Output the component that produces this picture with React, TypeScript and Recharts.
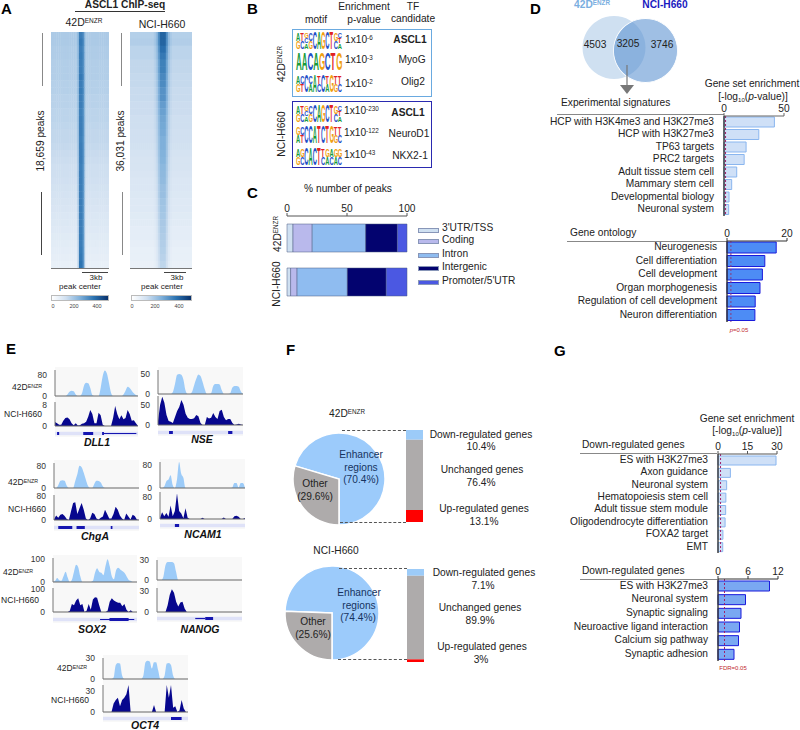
import React from "react"
import {
  Area,
  AreaChart,
  Bar,
  BarChart,
  Cell,
  ComposedChart,
  Pie,
  PieChart,
  ReferenceArea,
  ReferenceLine,
  Scatter,
  ScatterChart,
  XAxis,
  YAxis,
} from "recharts"

const FONT = '"Liberation Sans", Arial, sans-serif'
const LIGHT_TRACK = "#9ccbf8"
const DARK_TRACK = "#07078e"

// panel A: intensity read row by row, top to bottom
const hm42Background = [.36, .36, .35, .35, .34, .34, .34, .33, .33, .32, .32, .31, .31, .30, .29, .29, .28, .27, .26, .25, .25, .24, .23, .22, .21, .20, .19, .18, .17, .16, .15, .14, .13, .12]
const hm42Center = [.70, .72, .70, .71, .70, .70, .72, .70, .71, .70, .70, .69, .70, .70, .70, .69, .70, .70, .70, .69, .70, .70, .70, .70, .70, .70, .70, .70, .70, .71, .70, .71, .72, .74]
const hm42Profile = [0, 0, 0, 0, 0, 0, 0, 0, 0, 0, 0, 0, 0, 0, .2, 1, 1, .8, .1, 0, 0, 0, 0, 0, 0, 0, 0, 0, 0, 0, 0]
const hmNciBackground = [.33, .34, .31, .31, .29, .29, .28, .28, .27, .27, .26, .26, .25, .25, .24, .24, .23, .22, .21, .21, .20, .19, .19, .18, .17, .17, .16, .15, .14, .14, .13, .12, .12, .11]
const hmNciCenter = [.80, .80, .76, .72, .69, .69, .66, .65, .62, .62, .58, .56, .54, .53, .52, .50, .50, .49, .48, .46, .45, .44, .42, .42, .40, .39, .38, .37, .36, .35, .34, .33, .32, .30]
const hmNciProfile = [0, 0, 0, 0, 0, 0, 0, 0, 0, 0, 0, 0, .08, .25, .65, 1, 1, 1, .65, .25, .08, 0, 0, 0, 0, 0, 0, 0, 0, 0, 0]

// panel C
const peakRows = ["42D", "NCI-H660"]
const peakUtr = [5, 3]
const peakCoding = [16, 5.4]
const peakIntron = [44.6, 41.9]
const peakIntergenic = [26.4, 32.4]
const peakPromoter = [8, 17.3]
const peakNames = ["3'UTR/TSS", "Coding", "Intron", "Intergenic", "Promoter/5'UTR"]
const peakColors = ["#cfe0f1", "#b9b9ec", "#8fbcf0", "#03036f", "#4b58e2"]

// panel D
const expTerms = ["HCP with H3K4me3 and H3K27me3", "HCP with H3K27me3", "TP63 targets", "PRC2 targets", "Adult tissue stem cell", "Mammary stem cell", "Developmental biology", "Neuronal system"]
const expValues = [42, 29, 18.4, 16.8, 10.6, 6.4, 4.2, 3.9]
const goTerms = ["Neurogenesis", "Cell differentiation", "Cell development", "Organ morphogenesis", "Regulation of cell development", "Neuron differentiation"]
const goValues = [16.4, 12.6, 11.8, 11, 9.4, 9.3]

// panel E tracks
const dll1A = [0, 0, 0, 0, 0, 0, 6, 16, 20, 18, 6, 0, 0, 10, 40, 50, 48, 30, 4, 0, 0, 0, 30, 75, 96, 85, 50, 12, 0, 0, 0, 0, 0, 6, 20, 35, 30, 20, 10, 4, 0]
const dll1B = [1.5, 1, .5, .5, 2, 3, 3.2, 2.5, 1, .3, 1, .2, .3, .8, 1, 1.6, 3.5, 6, 4.5, 1, 1, 5, 4, .5, 0, 0, 0, 0, 3, 7.5, 4.5, 2.5, 4, 2.5, 3, 6, 4.5, 2, 2.2, 1, 0]
const nseA = [0, 0, 0, 0, 0, 0, 0, 5, 25, 48, 50, 48, 35, 8, 0, 0, 5, 22, 38, 49, 45, 30, 12, 0, 0, 2, 20, 25, 25, 24, 10, 0, 0, 0, 2, 16, 20, 20, 18, 6, 0]
const nseB = [10, 50, 70, 55, 25, 10, 8, 5, 20, 35, 45, 62, 50, 28, 18, 15, 15, 17, 25, 22, 5, 0, 0, 20, 16, 18, 30, 20, 15, 35, 38, 20, 12, 15, 15, 5, 0, 1, 3, 1, 0]
const chgaA = [0, 0, 10, 26, 28, 26, 8, 0, 0, 0, 25, 50, 80, 75, 55, 30, 8, 0, 0, 15, 26, 25, 20, 6, 0, 0, 0, 0, 0, 0, 0, 0, 0, 0, 0, 0, 0, 0, 0, 0, 0]
const chgaB = [2, 15, 8, 18, 20, 14, 3, 0, 30, 58, 60, 20, 40, 58, 35, 5, 0, 5, 25, 20, 5, 2, 8, 12, 35, 20, 5, 5, 20, 45, 35, 15, 5, 0, 22, 12, 2, 18, 14, 2, 0]
const ncam1A = [0, 0, 5, 24, 30, 45, 10, 0, 30, 92, 50, 36, 0, 0, 0, 0, 0, 0, 0, 0, 0, 0, 0, 0, 0, 0, 0, 0, 0, 0, 0, 0, 0, 0, 2, 18, 18, 2, 18, 18, 0]
const ncam1B = [5, 25, 10, 22, 8, 50, 10, 30, 95, 30, 20, 3, 40, 5, 0, 0, 0, 0, 0, 0, 5, 0, 0, 0, 0, 0, 0, 0, 0, 0, 6, 0, 0, 0, 0, 10, 12, 8, 0, 0, 4]
const sox2A = [0, 5, 18, 8, 5, 25, 45, 20, 0, 10, 45, 75, 65, 25, 0, 0, 0, 0, 0, 5, 40, 60, 45, 40, 30, 70, 100, 70, 25, 12, 50, 62, 55, 48, 40, 25, 10, 5, 0, 0, 0]
const sox2B = [0, 0, 0, 0, 0, 0, 0, 0, 5, 35, 30, 50, 60, 30, 35, 0, 5, 35, 10, 55, 65, 62, 30, 0, 0, 0, 5, 45, 60, 50, 45, 40, 40, 25, 35, 10, 0, 8, 0, 0, 0]
const nanogA = [0, 0, 0, 5, 22, 27, 27, 27, 25, 12, 0, 0, 0, 0, 0, 0, 0, 0, 0, 0, 0, 0, 0, 0, 0, 0, 0, 0, 0, 0, 0, 0, 0, 0, 0, 0, 0, 0, 0, 0, 0]
const nanogB = [0, 0, 0, 0, 0, 10, 25, 33, 28, 15, 8, 14, 15, 5, 0, 0, 0, 0, 0, 0, 0, 0, 0, 0, 0, 0, 0, 0, 0, 0, 0, 0, 0, 0, 0, 0, 0, 0, 0, 0, 0]
const oct4A = [0, 0, 0, 0, 0, 2, 20, 23, 22, 5, 0, 0, 0, 0, 0, 0, 0, 0, 0, 5, 24, 26, 25, 15, 24, 24, 12, 0, 0, 5, 22, 23, 20, 5, 0, 0, 0, 0, 0, 0, 0]
const oct4B = [0, 0, 0, 0, 0, 12, 17, 20, 8, 17, 20, 25, 38, 0, 0, 0, 0, 0, 0, 0, 0, 0, 0, 0, 10, 0, 0, 0, 0, 0, 38, 20, 38, 6, 8, 0, 2, 17, 5, 0, 0]

// panel F
const pie42 = [70.4, 29.6]
const pieNci = [74.4, 25.6]
const pieNames = ["Enhancer regions", "Other"]
const stack42 = [13.1, 76.4, 10.4]
const stackNci = [3, 89.9, 7.1]

// panel G
const downTerms = ["ES with H3K27me3", "Axon guidance", "Neuronal system", "Hematopoiesis stem cell", "Adult tissue stem module", "Oligodendrocyte differentiation", "FOXA2 target", "EMT"]
const downValues = [29.5, 6.3, 4.4, 4, 3.9, 3.6, 2.5, 2.4]
const down2Terms = ["ES with H3K27me3", "Neuronal system", "Synaptic signaling", "Neuroactive ligand interaction", "Calcium sig pathway", "Synaptic adhesion"]
const down2Values = [10.3, 5.5, 4.6, 4.3, 4.1, 3.2]

// motif logos, one string per column, letters stacked top to bottom
const motifAscl1 = ["AG", "TC", "GCA", "CG", "C", "A", "G", "C", "T", "GC", "CTA"]
const motifMyog = ["A", "A", "C", "A", "G", "C", "T", "G"]
const motifOlig2 = ["AG", "CT", "C", "CA", "A", "TC", "C", "TA", "G", "TG", "TC"]
const motifNeurod1 = ["GA", "CT", "C", "C", "A", "T", "C", "T", "G", "TG", "TC"]
const motifNkx2 = ["AG", "GC", "C", "A", "C", "T", "TC", "GA", "AC", "GA", "GC"]

const BASE = 10.2

type TProps = {
  x: number
  y: number
  children: React.ReactNode
  size?: number
  anchor?: "l" | "c" | "r"
  weight?: number
  color?: string
  rotate?: boolean
  style?: React.CSSProperties
}

function T({ x, y, children, size = BASE, anchor = "c", weight, color = "#222", rotate, style }: TProps) {
  const shift = anchor === "c" ? "-50%" : anchor === "r" ? "-100%" : "0"
  return (
    <div
      style={{
        position: "absolute",
        left: x,
        top: y,
        fontSize: size,
        fontWeight: weight,
        color,
        lineHeight: 1,
        whiteSpace: "nowrap",
        transform: `translate(${shift},-50%)${rotate ? " rotate(-90deg)" : ""}`,
        ...style,
      }}
    >
      {children}
    </div>
  )
}

const Sup = ({ children }: { children: React.ReactNode }) => (
  <span style={{ fontSize: "0.62em", position: "relative", top: "-0.4em" }}>{children}</span>
)

const Enzr = () => (
  <>
    42D<Sup>ENZR</Sup>
  </>
)

function Rule({ x1, x2, y, color = "#888", h = 1, dashed }: { x1: number; x2: number; y: number; color?: string; h?: number; dashed?: boolean }) {
  return (
    <div
      style={{
        position: "absolute",
        left: x1,
        top: y,
        width: x2 - x1,
        borderTop: `${h}px ${dashed ? "dashed" : "solid"} ${color}`,
      }}
    />
  )
}

function VRule({ x, y1, y2, color = "#888" }: { x: number; y1: number; y2: number; color?: string }) {
  return <div style={{ position: "absolute", left: x, top: y1, height: y2 - y1, borderLeft: `1px solid ${color}` }} />
}

const ramp = [
  [255, 255, 255],
  [207, 223, 240],
  [127, 176, 218],
  [43, 114, 176],
  [8, 48, 107],
]

function heatColor(v: number) {
  const p = Math.min(v, 0.999) * 4
  const i = Math.floor(p)
  const f = p - i
  const c = ramp[i].map((a, k) => Math.round(a + (ramp[i + 1][k] - a) * f))
  return `rgb(${c[0]},${c[1]},${c[2]})`
}

function Heatmap({ left, top, w, h, background, center, profile }: { left: number; top: number; w: number; h: number; background: number[]; center: number[]; profile: number[] }) {
  const cells = background.flatMap((b, r) =>
    profile.map((p, c) => ({ c, r, v: b + (center[r] - b) * p }))
  )
  const cw = w / profile.length + 0.4
  const ch = h / background.length + 0.4
  return (
    <div style={{ position: "absolute", left, top }}>
      <ScatterChart width={w} height={h} margin={{ top: 0, right: 0, bottom: 0, left: 0 }}>
        <XAxis type="number" dataKey="c" domain={[-0.5, profile.length - 0.5]} hide />
        <YAxis type="number" dataKey="r" domain={[-0.5, background.length - 0.5]} reversed hide />
        <Scatter
          data={cells}
          isAnimationActive={false}
          shape={(props: any) => (
            <rect x={props.cx - cw / 2} y={props.cy - ch / 2} width={cw} height={ch} fill={heatColor(props.payload.v)} />
          )}
        />
      </ScatterChart>
    </div>
  )
}

function ColorBar({ left, width, labels }: { left: number; width: number; labels: number[] }) {
  return (
    <>
      <div
        style={{
          position: "absolute",
          left,
          top: 295,
          width,
          height: 6,
          border: "1px solid #bbb",
          boxSizing: "border-box",
          background: "linear-gradient(to right,#fff,#cfdff0 25%,#7fb0da 50%,#2b72b0 75%,#08306b)",
        }}
      />
      {["0", "200", "400"].map((t, i) => (
        <T key={t} x={labels[i]} y={307} size={5.5} color="#444">
          {t}
        </T>
      ))}
    </>
  )
}

type Exon = [number, number, boolean]

function GeneStrip({ left, width, y, exons }: { left: number; width: number; y: number; exons: Exon[] }) {
  return (
    <div style={{ position: "absolute", left, top: y - 2.5 }}>
      <ComposedChart width={width} height={5} data={[{ i: 0, v: 0 }, { i: 40, v: 1 }]} margin={{ top: 0, right: 0, bottom: 0, left: 0 }}>
        <XAxis type="number" dataKey="i" domain={[0, 40]} hide />
        <YAxis type="number" domain={[0, 1]} hide />
        <Area dataKey="v" stroke="none" fill="none" isAnimationActive={false} />
        <ReferenceArea x1={0} x2={40} y1={0.15} y2={0.85} fill="#dfe2f8" fillOpacity={1} stroke="none" ifOverflow="visible" />
        {exons.map(([a, b, thick]) => (
          <ReferenceArea
            key={a}
            x1={a}
            x2={b}
            y1={thick ? 0.2 : 0.38}
            y2={thick ? 0.8 : 0.62}
            fill="#1515b0"
            fillOpacity={1}
            stroke="none"
            ifOverflow="visible"
          />
        ))}
      </ComposedChart>
    </div>
  )
}

type TrackProps = {
  left: number
  right: number
  top: number
  base: number
  values: number[]
  max: number
  ticks: number[]
  color: string
  curve: "monotone" | "linear"
}

function Track({ left, right, top, base, values, max, ticks, color, curve }: TrackProps) {
  const gutter = 22
  const pad = 6
  const rows = values.map((v, i) => ({ i, v }))
  return (
    <div style={{ position: "absolute", left: left - gutter, top: top - pad }}>
      <AreaChart
        width={right - left + gutter}
        height={base - top + pad * 2}
        data={rows}
        margin={{ top: pad, right: 0, bottom: pad - 1, left: 0 }}
      >
        <XAxis type="number" dataKey="i" domain={[0, 40]} tick={false} tickLine={false} height={1} axisLine={{ stroke: "#666" }} />
        <YAxis
          type="number"
          width={gutter}
          domain={[0, max]}
          ticks={ticks}
          tickLine={false}
          tickMargin={2}
          interval={0}
          axisLine={{ stroke: "#777" }}
          tick={{ fontSize: 8.5, fill: "#333", fontFamily: FONT }}
        />
        <Area type={curve} dataKey="v" stroke="none" fill={color} fillOpacity={1} isAnimationActive={false} dot={false} />
      </AreaChart>
    </div>
  )
}

type LocusProps = {
  left: number
  right: number
  topA: number
  baseA: number
  topB: number
  baseB: number
  a: number[]
  b: number[]
  maxA: number
  maxB: number
  ticksA: number[]
  ticksB: number[]
  stripY: number
  exons: Exon[]
  name: string
  nameX: number
  nameY: number
}

function Locus(p: LocusProps) {
  return (
    <>
      <div style={{ position: "absolute", left: p.left, top: p.topA - 3, width: p.right - p.left, height: p.stripY - p.topA + 7, background: "#f8f8f8" }} />
      <Track left={p.left} right={p.right} top={p.topA} base={p.baseA} values={p.a} max={p.maxA} ticks={p.ticksA} color={LIGHT_TRACK} curve="monotone" />
      <Track left={p.left} right={p.right} top={p.topB} base={p.baseB} values={p.b} max={p.maxB} ticks={p.ticksB} color={DARK_TRACK} curve="linear" />
      <GeneStrip left={p.left} width={p.right - p.left} y={p.stripY} exons={p.exons} />
      <T x={p.nameX} y={p.nameY} size={10.5} weight={700} color="#111" style={{ fontStyle: "italic" }}>
        {p.name}
      </T>
    </>
  )
}

type EnrichProps = {
  zero: number
  end: number
  axisY: number
  bottom: number
  labelWidth: number
  terms: string[]
  values: number[]
  max: number
  ticks: number[]
  fill: string
  stroke: string
  barSize: number
  cutoff: number
  cutoffColor: string
  axisColor: string
}

function EnrichBars(p: EnrichProps) {
  const axisH = 16
  const rows = p.terms.map((term, i) => ({ term, value: p.values[i] }))
  return (
    <div style={{ position: "absolute", left: p.zero - p.labelWidth, top: p.axisY - axisH }}>
      <BarChart
        layout="vertical"
        width={p.labelWidth + (p.end - p.zero) + 10}
        height={p.bottom - p.axisY + axisH}
        data={rows}
        margin={{ top: 0, right: 10, bottom: 0, left: 0 }}
      >
        <XAxis
          type="number"
          orientation="top"
          domain={[0, p.max]}
          ticks={p.ticks}
          height={axisH}
          interval={0}
          tickSize={3}
          tickMargin={1}
          axisLine={{ stroke: p.axisColor, strokeWidth: 1.2 }}
          tickLine={{ stroke: p.axisColor }}
          tick={{ fontSize: BASE, fill: "#222", fontFamily: FONT }}
        />
        <YAxis
          type="category"
          dataKey="term"
          width={p.labelWidth}
          interval={0}
          tickLine={false}
          axisLine={{ stroke: "#333", strokeWidth: 1.4 }}
          tick={(t: any) => (
            <text x={t.x - 2} y={t.y} textAnchor="end" dominantBaseline="middle" fontSize={BASE} fill="#222" fontFamily={FONT}>
              {t.payload.value}
            </text>
          )}
        />
        <Bar dataKey="value" fill={p.fill} stroke={p.stroke} strokeWidth={1} barSize={p.barSize} isAnimationActive={false} />
        <ReferenceLine x={p.cutoff} stroke={p.cutoffColor} strokeDasharray="2 2" strokeWidth={1} />
      </BarChart>
    </div>
  )
}

function PeakBars() {
  const rows = peakRows.map((name, i) => ({
    name,
    utr: peakUtr[i],
    coding: peakCoding[i],
    intron: peakIntron[i],
    intergenic: peakIntergenic[i],
    promoter: peakPromoter[i],
  }))
  const keys = ["utr", "coding", "intron", "intergenic", "promoter"]
  return (
    <div style={{ position: "absolute", left: 277, top: 200 }}>
      <BarChart layout="vertical" width={140} height={104} data={rows} margin={{ top: 0, right: 10, bottom: 0, left: 10 }}>
        <XAxis
          type="number"
          orientation="top"
          domain={[0, 100]}
          ticks={[0, 50, 100]}
          height={16}
          interval={0}
          tickSize={3}
          tickMargin={1}
          axisLine={{ stroke: "#555" }}
          tickLine={{ stroke: "#555" }}
          tick={{ fontSize: BASE, fill: "#222", fontFamily: FONT }}
        />
        <YAxis type="category" dataKey="name" width={0} tick={false} tickLine={false} axisLine={{ stroke: "#555" }} />
        {keys.map((k, i) => (
          <Bar key={k} dataKey={k} stackId="a" fill={peakColors[i]} stroke="#4a5a80" strokeWidth={0.5} barSize={28} isAnimationActive={false} />
        ))}
      </BarChart>
    </div>
  )
}

function GeneStack({ left, top, h, values }: { left: number; top: number; h: number; values: number[] }) {
  const rows = [{ up: values[0], same: values[1], down: values[2] }]
  return (
    <div style={{ position: "absolute", left, top }}>
      <BarChart width={17} height={h} data={rows} margin={{ top: 0, right: 0, bottom: 0, left: 0 }} barCategoryGap={0}>
        <XAxis hide />
        <YAxis hide domain={[0, "dataMax"]} />
        <Bar dataKey="up" stackId="a" fill="#ff0000" isAnimationActive={false} />
        <Bar dataKey="same" stackId="a" fill="#aeabab" isAnimationActive={false} />
        <Bar dataKey="down" stackId="a" fill="#9ccbf8" isAnimationActive={false} />
      </BarChart>
    </div>
  )
}

function EnhancerPie({ cx, cy, r, values }: { cx: number; cy: number; r: number; values: number[] }) {
  const rows = pieNames.map((name, i) => ({ name, value: values[i] }))
  const size = r * 2 + 6
  return (
    <div style={{ position: "absolute", left: cx - size / 2, top: cy - size / 2 }}>
      <PieChart width={size} height={size} margin={{ top: 0, right: 0, bottom: 0, left: 0 }}>
        <Pie data={rows} dataKey="value" cx={size / 2} cy={size / 2} outerRadius={r} startAngle={-90} endAngle={270} stroke="#fff" strokeWidth={1.5} isAnimationActive={false}>
          <Cell fill="#9ccbfb" />
          <Cell fill="#aeabab" />
        </Pie>
      </PieChart>
    </div>
  )
}

function Venn() {
  return (
    <div style={{ position: "absolute", left: 570, top: 5 }}>
      <PieChart width={120} height={90} margin={{ top: 0, right: 0, bottom: 0, left: 0 }}>
        <Pie data={[{ value: 4503 + 3205 }]} dataKey="value" cx={44} cy={42.5} outerRadius={31.5} stroke="none" fill="#cfe0f1" isAnimationActive={false} />
        <Pie data={[{ value: 3746 + 3205 }]} dataKey="value" cx={75.5} cy={45.5} outerRadius={32} stroke="none" fill="#5a90d0" fillOpacity={0.58} isAnimationActive={false} />
        <Pie data={[{ value: 1 }]} dataKey="value" cx={75.5} cy={45.5} innerRadius={31.6} outerRadius={32.4} stroke="none" fill="#fff" isAnimationActive={false} />
      </PieChart>
    </div>
  )
}

const letterColors: Record<string, string> = { A: "#179a3c", C: "#1f4fc8", G: "#f0a010", T: "#e02222" }

function Logo({ x, y, motif }: { x: number; y: number; motif: string[] }) {
  const W = 46
  const H = 17
  const cw = W / motif.length
  const cap = 7.2
  return (
    <svg width={W} height={H} style={{ position: "absolute", left: x, top: y - H / 2, overflow: "visible" }}>
      {motif.flatMap((col, i) => {
        const h = H / col.length
        return col.split("").map((ch, j) => (
          <text
            key={`${i}-${j}`}
            transform={`translate(${i * cw},${(j + 1) * h}) scale(${cw / 7.2},${h / cap})`}
            fontSize={10}
            fontWeight={700}
            fontFamily={FONT}
            fill={letterColors[ch]}
          >
            {ch}
          </text>
        ))
      })}
    </svg>
  )
}

const P10 = ({ x, y, exp }: { x: number; y: number; exp: string }) => (
  <T x={x} y={y} anchor="l">
    1x10<Sup>{exp}</Sup>
  </T>
)

export default function App() {
  return (
    <div style={{ position: "absolute", left: 0, top: 0, width: 800, height: 730, background: "#fff", fontFamily: FONT, overflow: "hidden" }}>
      {/* A */}
      <T x={1} y={8} size={15} weight={700} anchor="l" color="#000">A</T>
      <T x={125} y={5} weight={700}>ASCL1 ChIP-seq</T>
      <Rule x1={75} x2={165} y={11} color="#333" />
      <T x={84} y={22} size={10.5}><Enzr /></T>
      <T x={162} y={24} size={10.5}>NCI-H660</T>
      <Heatmap left={51} top={32} w={58} h={236} background={hm42Background} center={hm42Center} profile={hm42Profile} />
      <Heatmap left={130} top={32} w={62} h={236} background={hmNciBackground} center={hmNciCenter} profile={hmNciProfile} />
      <Rule x1={51} x2={109} y={268} color="#777" />
      <Rule x1={130} x2={192} y={268} color="#777" />
      <VRule x={42} y1={33} y2={86} />
      <VRule x={41} y1={192} y2={255} color="#444" />
      <VRule x={121} y1={33} y2={86} />
      <VRule x={122} y1={192} y2={255} />
      <T x={41} y={141} rotate>18,659 peaks</T>
      <T x={121} y={141} rotate>36,031 peaks</T>
      <Rule x1={82} x2={108} y={272} color="#444" />
      <Rule x1={164} x2={186} y={272} color="#444" />
      <T x={96} y={278} size={8}>3kb</T>
      <T x={177} y={278} size={8}>3kb</T>
      <T x={80} y={287} size={8}>peak center</T>
      <T x={162} y={287} size={8}>peak center</T>
      <ColorBar left={51} width={58} labels={[53, 74, 97]} />
      <ColorBar left={131} width={61} labels={[132, 155, 179]} />

      {/* B */}
      <T x={247} y={8} size={15} weight={700} anchor="l" color="#000">B</T>
      <T x={316} y={20}>motif</T>
      <T x={364} y={7}>Enrichment</T>
      <T x={364} y={20}>p-value</T>
      <T x={413} y={7}>TF</T>
      <T x={413} y={19}>candidate</T>
      <div style={{ position: "absolute", left: 292, top: 29, width: 140, height: 68, border: "1.5px solid #6aaae0", boxSizing: "border-box" }} />
      <div style={{ position: "absolute", left: 292, top: 101, width: 140, height: 67, border: "1.5px solid #2a2ab0", boxSizing: "border-box" }} />
      <T x={282} y={64} rotate><Enzr /></T>
      <T x={282} y={134} rotate>NCI-H660</T>
      <Logo x={296} y={40} motif={motifAscl1} />
      <Logo x={296} y={61} motif={motifMyog} />
      <Logo x={296} y={83} motif={motifOlig2} />
      <Logo x={296} y={113} motif={motifAscl1} />
      <Logo x={296} y={134} motif={motifNeurod1} />
      <Logo x={296} y={156} motif={motifNkx2} />
      <P10 x={345} y={40} exp="-6" />
      <P10 x={345} y={60} exp="-3" />
      <P10 x={345} y={84} exp="-2" />
      <P10 x={344} y={111} exp="-230" />
      <P10 x={344} y={133} exp="-122" />
      <P10 x={344} y={155} exp="-43" />
      <T x={410} y={40} weight={700}>ASCL1</T>
      <T x={412} y={60}>MyoG</T>
      <T x={413} y={82}>Olig2</T>
      <T x={408} y={113} weight={700}>ASCL1</T>
      <T x={409} y={134}>NeuroD1</T>
      <T x={410} y={156}>NKX2-1</T>

      {/* C */}
      <T x={247} y={192} size={15} weight={700} anchor="l" color="#000">C</T>
      <T x={348} y={189}>% number of peaks</T>
      <PeakBars />
      <T x={278} y={234} rotate><Enzr /></T>
      <T x={277} y={284} rotate>NCI-H660</T>
      {peakNames.map((name, i) => (
        <React.Fragment key={name}>
          <div style={{ position: "absolute", left: 418, top: [228, 239, 253, 266, 280][i], width: 19, height: 3, background: peakColors[i], border: "0.5px solid #8896b8" }} />
          <T x={442} y={[228, 240, 254, 267, 281][i]} anchor="l">{name}</T>
        </React.Fragment>
      ))}

      {/* D */}
      <T x={530} y={8} size={15} weight={700} anchor="l" color="#000">D</T>
      <T x={592} y={5} weight={700} color="#7aaee0"><Enzr /></T>
      <T x={665} y={5} weight={700} color="#1a1ac0">NCI-H660</T>
      <Venn />
      <T x={595} y={45}>4503</T>
      <T x={628} y={44}>3205</T>
      <T x={662} y={45}>3746</T>
      <svg width={20} height={32} style={{ position: "absolute", left: 617, top: 65 }}>
        <line x1={10} y1={0} x2={10} y2={20} stroke="#777" strokeWidth={1.2} />
        <polygon points="3,20 17,20 10,29" fill="#777" />
      </svg>
      <T x={752} y={84}>Gene set enrichment</T>
      <T x={753} y={97}>[-log<span style={{ fontSize: 6, position: "relative", top: 2 }}>10</span>(<i>p</i>-value)]</T>
      <T x={561} y={103} anchor="l">Experimental signatures</T>
      <Rule x1={557} x2={724} y={114} />
      <EnrichBars zero={724} end={784} axisY={116} bottom={216} labelWidth={180} terms={expTerms} values={expValues} max={50} ticks={[0, 50]} fill="#cfe0f7" stroke="#8ab6ef" barSize={10} cutoff={1.3} cutoffColor="#a0206a" axisColor="#666" />
      <T x={570} y={233} anchor="l">Gene ontology</T>
      <Rule x1={567} x2={727} y={241} />
      <EnrichBars zero={727} end={787} axisY={241} bottom={322} labelWidth={180} terms={goTerms} values={goValues} max={20} ticks={[0, 20]} fill="#4d8cf5" stroke="#1a1adb" barSize={11} cutoff={1.3} cutoffColor="#8a3a7a" axisColor="#333" />
      <T x={739} y={330} size={6} color="#c0272d"><i>p</i>=0.05</T>

      {/* E */}
      <T x={6} y={348} size={15} weight={700} anchor="l" color="#000">E</T>
      <Locus left={55} right={138} topA={370} baseA={396} topB={402} baseB={426} a={dll1A} b={dll1B} maxA={98} maxB={9} ticksA={[0, 80]} ticksB={[0, 8]} stripY={433} exons={[[1, 2, true], [13.6, 18.4, true], [22.7, 23.6, true], [23.6, 39.2, false]]} name="DLL1" nameX={97} nameY={442} />
      <Locus left={158} right={243} topA={370} baseA={394} topB={396} baseB={425} a={nseA} b={nseB} maxA={60} maxB={72} ticksA={[0, 50]} ticksB={[0, 50]} stripY={432} exons={[[5.2, 7, true], [33, 35, true]]} name="NSE" nameX={202} nameY={439} />
      <T x={27} y={387} size={8.5}><Enzr /></T>
      <T x={23} y={414} size={8.5}>NCI-H660</T>
      <Locus left={54} right={139} topA={463} baseA={488} topB={495} baseB={520} a={chgaA} b={chgaB} maxA={90} maxB={85} ticksA={[0, 80]} ticksB={[0, 80]} stripY={527} exons={[[2, 8.6, true], [10.6, 14.5, true], [26.7, 27.5, true]]} name="ChgA" nameX={95} nameY={536} />
      <Locus left={160} right={245} topA={462} baseA={488} topB={492} baseB={519} a={ncam1A} b={ncam1B} maxA={92} maxB={100} ticksA={[0, 80]} ticksB={[0, 80]} stripY={525} exons={[[7, 9, true]]} name="NCAM1" nameX={203} nameY={534} />
      <T x={23} y={482} size={8.5}><Enzr /></T>
      <T x={27} y={509} size={8.5}>NCI-H660</T>
      <Locus left={53} right={137} topA={558} baseA={582} topB={588} baseB={612} a={sox2A} b={sox2B} maxA={105} maxB={105} ticksA={[0, 100]} ticksB={[0, 100]} stripY={619} exons={[[22.4, 38.7, false], [26.9, 36, true]]} name="SOX2" nameX={92} nameY={629} />
      <Locus left={157} right={242} topA={560} baseA={580} topB={588} baseB={612} a={nanogA} b={nanogB} maxA={30} maxB={35} ticksA={[0, 30]} ticksB={[0, 30]} stripY={618} exons={[[18, 22.7, false], [22.7, 26.4, true]]} name="NANOG" nameX={200} nameY={629} />
      <T x={18} y={572} size={8.5}><Enzr /></T>
      <T x={20} y={600} size={8.5}>NCI-H660</T>
      <Locus left={103} right={188} topA={658} baseA={679} topB={685} baseB={712} a={oct4A} b={oct4B} maxA={30} maxB={38} ticksA={[0, 30]} ticksB={[0, 30]} stripY={718} exons={[[32, 37, true]]} name="OCT4" nameX={145} nameY={725} />
      <T x={72} y={668} size={8.5}><Enzr /></T>
      <T x={70} y={700} size={8.5}>NCI-H660</T>

      {/* F */}
      <T x={286} y={349} size={15} weight={700} anchor="l" color="#000">F</T>
      <T x={347} y={414}><Enzr /></T>
      <EnhancerPie cx={339} cy={479} r={46} values={pie42} />
      <Rule x1={342} x2={406} y={430} color="#555" dashed />
      <Rule x1={340} x2={406} y={522} color="#555" dashed />
      <GeneStack left={406} top={430} h={92} values={stack42} />
      <T x={361} y={455} color="#16335f">Enhancer</T>
      <T x={361} y={468} color="#16335f">regions</T>
      <T x={361} y={480} color="#16335f">(70.4%)</T>
      <T x={315} y={484}>Other</T>
      <T x={315} y={497}>(29.6%)</T>
      <T x={481} y={435}>Down-regulated genes</T>
      <T x={481} y={447}>10.4%</T>
      <T x={482} y={470}>Unchanged genes</T>
      <T x={481} y={483}>76.4%</T>
      <T x={484} y={509}>Up-regulated genes</T>
      <T x={484} y={522}>13.1%</T>

      <T x={336} y={551}>NCI-H660</T>
      <EnhancerPie cx={332} cy={613} r={47} values={pieNci} />
      <Rule x1={339} x2={407} y={568} color="#555" dashed />
      <Rule x1={338} x2={407} y={659} color="#555" dashed />
      <GeneStack left={407} top={569} h={93} values={stackNci} />
      <T x={359} y={593} color="#16335f">Enhancer</T>
      <T x={359} y={606} color="#16335f">regions</T>
      <T x={358} y={618} color="#16335f">(74.4%)</T>
      <T x={313} y={622}>Other</T>
      <T x={313} y={635}>(25.6%)</T>
      <T x={484} y={573}>Down-regulated genes</T>
      <T x={483} y={586}>7.1%</T>
      <T x={480} y={608}>Unchanged genes</T>
      <T x={480} y={621}>89.9%</T>
      <T x={482} y={647}>Up-regulated genes</T>
      <T x={481} y={660}>3%</T>

      {/* G */}
      <T x={554} y={350} size={15} weight={700} anchor="l" color="#000">G</T>
      <T x={747} y={419}>Gene set enrichment</T>
      <T x={747} y={431}>[-log<span style={{ fontSize: 6, position: "relative", top: 2 }}>10</span>(<i>p</i>-value)]</T>
      <T x={582} y={445} anchor="l">Down-regulated genes</T>
      <Rule x1={580} x2={717} y={453} />
      <EnrichBars zero={718} end={777} axisY={454} bottom={553} labelWidth={170} terms={downTerms} values={downValues} max={30} ticks={[0, 15, 30]} fill="#cfe0f7" stroke="#8ab6ef" barSize={9} cutoff={1.3} cutoffColor="#a0206a" axisColor="#555" />
      <T x={582} y={571} anchor="l">Down-regulated genes</T>
      <Rule x1={580} x2={717} y={579} />
      <EnrichBars zero={718} end={778} axisY={579} bottom={661} labelWidth={170} terms={down2Terms} values={down2Values} max={12} ticks={[0, 6, 12]} fill="#7aa8f2" stroke="#1a1adb" barSize={10} cutoff={1.3} cutoffColor="#a0206a" axisColor="#333" />
      <T x={733} y={668} size={6} color="#c0272d">FDR=0.05</T>
    </div>
  )
}
